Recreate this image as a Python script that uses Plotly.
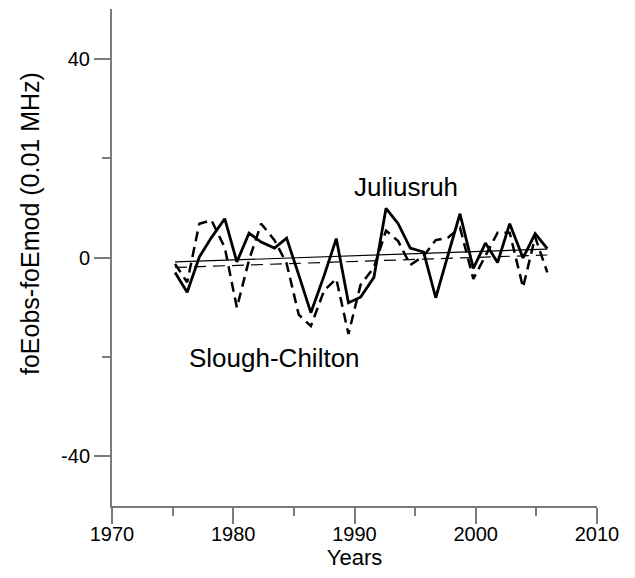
import plotly.graph_objects as go

# x positions of the yearly points
years = [1975.2, 1976.2, 1977.2, 1978.2, 1979.3, 1980.3, 1981.3, 1982.3, 1983.4, 1984.4,
         1985.4, 1986.4, 1987.5, 1988.5, 1989.5, 1990.5, 1991.6, 1992.6, 1993.6, 1994.6,
         1995.7, 1996.7, 1997.7, 1998.7, 1999.8, 2000.8, 2001.8, 2002.8, 2003.9, 2004.9, 2005.9]

juliusruh = [-3.0, -7.0, 0.1, 4.0, 7.8, -0.9, 4.9, 3.1, 1.9, 3.9,
             -3.5, -11.1, -3.6, 3.8, -9.1, -8.0, -4.0, 9.9, 6.8, 1.9,
             1.1, -8.1, 0.4, 8.8, -2.2, 2.9, -1.0, 6.8, -0.1, 4.8, 1.8]

slough_chilton = [-1.3, -5.0, 6.8, 7.5, 2.0, -10.1, -0.5, 6.8, 3.5, -1.2,
                  -11.5, -13.8, -6.6, -4.3, -15.4, -5.5, -2.0, 5.4, 3.3, -1.5,
                  0.3, 3.5, 4.0, 6.0, -4.3, 0.5, 5.0, 5.0, -6.0, 4.1, -3.0]

trend_years = [1975.2, 2005.9]
trend_juliusruh = [-0.9, 1.7]
trend_slough = [-2.0, 0.5]

x_ticks = [1970, 1980, 1990, 2000, 2010]
y_ticks = [-40, 0, 40]

FONT = "Liberation Sans, Arial, sans-serif"
AXIS_COLOR = "#7a7a7a"

fig = go.Figure()
fig.add_trace(go.Scatter(x=years, y=juliusruh, mode="lines",
                         line=dict(color="black", width=2.8), name="Juliusruh"))
fig.add_trace(go.Scatter(x=years, y=slough_chilton, mode="lines",
                         line=dict(color="black", width=2.5, dash="10px,6px"), name="Slough-Chilton"))
fig.add_trace(go.Scatter(x=trend_years, y=trend_juliusruh, mode="lines",
                         line=dict(color="black", width=1.2), name="trend J"))
fig.add_trace(go.Scatter(x=trend_years, y=trend_slough, mode="lines",
                         line=dict(color="black", width=1.2, dash="12px,7px"), name="trend S"))

fig.add_annotation(x=1994.25, y=14.2, text="Juliusruh", showarrow=False,
                   xanchor="center", yanchor="middle",
                   font=dict(family=FONT, size=26, color="black"))
fig.add_annotation(x=1983.4, y=-20.3, text="Slough-Chilton", showarrow=False,
                   xanchor="center", yanchor="middle",
                   font=dict(family=FONT, size=26, color="black"))
# y-axis title
fig.add_annotation(x=30, y=224, xref="paper", yref="paper", text="foEobs-foEmod (0.01 MHz)",
                   showarrow=False, textangle=-90, xanchor="center", yanchor="middle",
                   font=dict(family=FONT, size=25, color="black"))

fig.update_layout(
    width=635, height=578,
    margin=dict(l=112, r=38, t=9, b=72),
    paper_bgcolor="white", plot_bgcolor="white",
    showlegend=False,
    font=dict(family=FONT, color="black", size=20),
)
# convert pixel placement of the y title into paper coordinates
pw, ph = 635 - 112 - 38, 578 - 9 - 72
fig.layout.annotations[2].x = (30 - 112) / pw
fig.layout.annotations[2].y = (578 - 72 - 224) / ph

fig.update_xaxes(
    range=[1970, 2010], tickvals=x_ticks, ticktext=[str(v) for v in x_ticks],
    showline=True, linecolor=AXIS_COLOR, linewidth=2,
    ticks="outside", ticklen=16, tickwidth=2, tickcolor=AXIS_COLOR,
    minor=dict(dtick=5, tick0=1970, ticks="outside", ticklen=8, tickwidth=2, tickcolor=AXIS_COLOR),
    showgrid=False, zeroline=False, ticklabelstandoff=-7,
    tickfont=dict(family=FONT, size=20, color="black"),
    title=dict(text="Years", font=dict(family=FONT, size=22, color="black"), standoff=2),
)
fig.update_yaxes(
    range=[-50, 50], tickvals=y_ticks, ticktext=[str(v) for v in y_ticks],
    showline=True, linecolor=AXIS_COLOR, linewidth=2,
    ticks="outside", ticklen=16, tickwidth=2, tickcolor=AXIS_COLOR,
    minor=dict(dtick=20, tick0=0, ticks="outside", ticklen=8, tickwidth=2, tickcolor=AXIS_COLOR),
    showgrid=False, zeroline=False,
    tickfont=dict(family=FONT, size=20, color="black"),
)

fig.write_html("out.html")
